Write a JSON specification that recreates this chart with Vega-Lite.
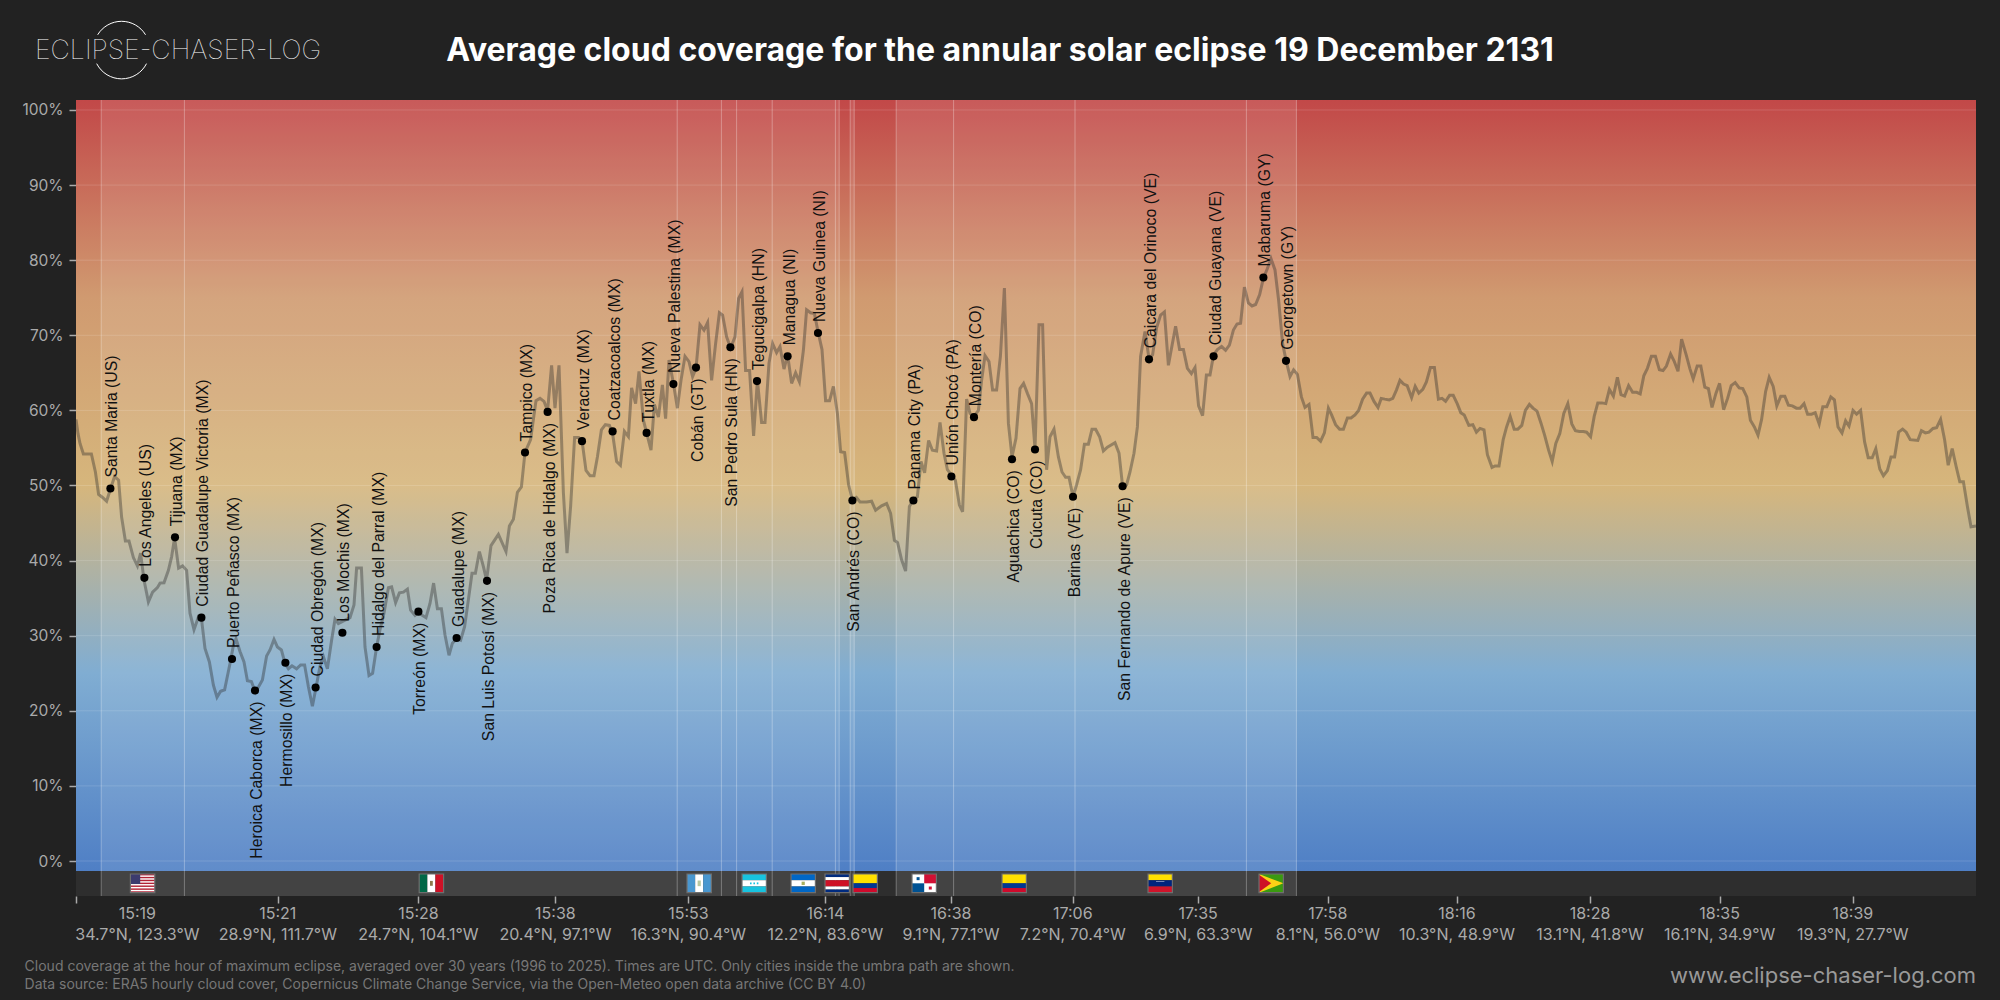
{
  "$schema": "https://vega.github.io/schema/vega-lite/v6.json",
  "width": 1900,
  "height": 796,
  "autosize": {"type": "none"},
  "padding": {"left": 76, "top": 100, "right": 24, "bottom": 104},
  "background": "#222222",
  "view": {"stroke": null},
  "title": {
    "text": "Average cloud coverage for the annular solar eclipse 19 December 2131",
    "font": "Inter",
    "fontSize": 32,
    "fontWeight": 700,
    "color": "#ffffff",
    "anchor": "middle",
    "baseline": "alphabetic",
    "dx": -26,
    "offset": -74
  },
  "datasets": {
    "cloud": [
      {"km":0,"pct":58.8},{"km":10,"pct":56.9},{"km":20,"pct":55.6},{"km":37,"pct":54.2},{"km":77,"pct":54.2},{"km":97,"pct":51.8},{"km":113,"pct":48.8},{"km":133,"pct":48.4},{"km":153,"pct":47.9},{"km":173,"pct":49.6},{"km":193,"pct":51.2},{"km":213,"pct":50.7},{"km":228,"pct":45.8},{"km":247,"pct":42.6},{"km":265,"pct":42.6},{"km":287,"pct":40.4},{"km":307,"pct":39.3},{"km":323,"pct":41.0},{"km":340,"pct":37.4},{"km":362,"pct":34.5},{"km":383,"pct":35.8},{"km":407,"pct":36.4},{"km":420,"pct":37.0},{"km":440,"pct":37.05},{"km":462,"pct":38.7},{"km":478,"pct":40.5},{"km":493,"pct":43.0},{"km":513,"pct":39.0},{"km":533,"pct":39.3},{"km":553,"pct":38.7},{"km":570,"pct":33.0},{"km":590,"pct":30.8},{"km":612,"pct":32.5},{"km":628,"pct":32.1},{"km":645,"pct":28.3},{"km":667,"pct":26.5},{"km":687,"pct":23.4},{"km":705,"pct":21.8},{"km":723,"pct":22.6},{"km":743,"pct":22.8},{"km":770,"pct":26.3},{"km":787,"pct":28.7},{"km":800,"pct":29.6},{"km":820,"pct":27.9},{"km":840,"pct":26.5},{"km":857,"pct":24.0},{"km":877,"pct":23.9},{"km":897,"pct":22.5},{"km":913,"pct":23.2},{"km":932,"pct":24.1},{"km":953,"pct":27.3},{"km":970,"pct":28.1},{"km":990,"pct":29.5},{"km":1007,"pct":28.5},{"km":1027,"pct":28.1},{"km":1045,"pct":26.3},{"km":1062,"pct":25.6},{"km":1080,"pct":26.0},{"km":1103,"pct":25.6},{"km":1123,"pct":26.1},{"km":1143,"pct":26.1},{"km":1162,"pct":23.2},{"km":1182,"pct":20.6},{"km":1198,"pct":22.8},{"km":1220,"pct":25.9},{"km":1237,"pct":27.2},{"km":1257,"pct":25.6},{"km":1278,"pct":29.4},{"km":1295,"pct":32.2},{"km":1312,"pct":31.6},{"km":1333,"pct":31.9},{"km":1370,"pct":32.4},{"km":1390,"pct":34.1},{"km":1403,"pct":39.0},{"km":1427,"pct":39.0},{"km":1445,"pct":28.5},{"km":1465,"pct":24.7},{"km":1483,"pct":25.0},{"km":1503,"pct":28.5},{"km":1520,"pct":30.8},{"km":1540,"pct":33.0},{"km":1562,"pct":36.4},{"km":1578,"pct":36.5},{"km":1598,"pct":34.4},{"km":1617,"pct":35.7},{"km":1637,"pct":35.8},{"km":1657,"pct":36.2},{"km":1673,"pct":33.4},{"km":1695,"pct":32.7},{"km":1712,"pct":33.1},{"km":1733,"pct":32.7},{"km":1750,"pct":32.4},{"km":1770,"pct":34.3},{"km":1788,"pct":37.0},{"km":1807,"pct":33.6},{"km":1827,"pct":33.6},{"km":1845,"pct":30.1},{"km":1865,"pct":27.4},{"km":1882,"pct":29.0},{"km":1903,"pct":29.6},{"km":1923,"pct":29.4},{"km":1943,"pct":31.2},{"km":1962,"pct":34.8},{"km":1980,"pct":38.3},{"km":1997,"pct":38.3},{"km":2017,"pct":41.2},{"km":2037,"pct":39.2},{"km":2053,"pct":37.4},{"km":2075,"pct":42.0},{"km":2112,"pct":43.5},{"km":2150,"pct":41.2},
      {"km":2167,"pct":44.6},{"km":2187,"pct":45.5},{"km":2207,"pct":49.1},{"km":2227,"pct":49.8},{"km":2245,"pct":54.4},{"km":2273,"pct":56.1},{"km":2300,"pct":61.3},{"km":2320,"pct":61.6},{"km":2340,"pct":61.2},{"km":2358,"pct":60.0},{"km":2378,"pct":66.0},{"km":2395,"pct":60.3},{"km":2415,"pct":66.0},{"km":2437,"pct":49.0},{"km":2455,"pct":41.0},{"km":2473,"pct":47.2},{"km":2493,"pct":56.4},{"km":2513,"pct":56.4},{"km":2532,"pct":55.6},{"km":2550,"pct":52.0},{"km":2570,"pct":51.3},{"km":2590,"pct":51.3},{"km":2607,"pct":53.8},{"km":2627,"pct":57.4},{"km":2647,"pct":58.1},{"km":2667,"pct":58.0},{"km":2683,"pct":56.9},{"km":2703,"pct":53.2},{"km":2722,"pct":52.7},{"km":2742,"pct":57.2},{"km":2762,"pct":56.5},{"km":2778,"pct":63.0},{"km":2798,"pct":60.9},{"km":2815,"pct":65.2},{"km":2837,"pct":58.7},{"km":2875,"pct":54.7},{"km":2892,"pct":60.8},{"km":2912,"pct":59.1},{"km":2932,"pct":63.4},{"km":2948,"pct":58.9},{"km":2965,"pct":66.7},{"km":2987,"pct":63.6},{"km":3007,"pct":60.3},{"km":3025,"pct":64.0},{"km":3045,"pct":67.2},{"km":3065,"pct":66.5},{"km":3083,"pct":64.5},{"km":3100,"pct":65.6},{"km":3120,"pct":71.4},{"km":3140,"pct":70.7},{"km":3158,"pct":71.7},{"km":3178,"pct":64.0},{"km":3198,"pct":68.9},{"km":3217,"pct":73.0},{"km":3233,"pct":72.7},{"km":3253,"pct":69.8},{"km":3273,"pct":68.3},{"km":3295,"pct":69.8},{"km":3313,"pct":74.9},{"km":3330,"pct":75.8},{"km":3348,"pct":65.3},{"km":3368,"pct":65.3},{"km":3388,"pct":56.6},{"km":3407,"pct":64.0},{"km":3428,"pct":58.4},{"km":3445,"pct":58.4},{"km":3465,"pct":66.3},{"km":3483,"pct":68.9},{"km":3503,"pct":67.7},{"km":3520,"pct":68.5},{"km":3540,"pct":65.5},{"km":3558,"pct":67.4},{"km":3578,"pct":63.6},{"km":3598,"pct":65.0},{"km":3617,"pct":63.8},{"km":3637,"pct":68.0},{"km":3653,"pct":73.4},{"km":3673,"pct":73.0},{"km":3692,"pct":72.9},{"km":3710,"pct":70.5},{"km":3730,"pct":68.1},{"km":3748,"pct":61.3},{"km":3768,"pct":61.3},{"km":3787,"pct":63.2},{"km":3807,"pct":59.6},{"km":3823,"pct":54.5},{"km":3843,"pct":54.4},{"km":3863,"pct":50.1},{"km":3882,"pct":48.1},{"km":3902,"pct":48.4},{"km":3920,"pct":47.8},{"km":3953,"pct":47.8},{"km":3978,"pct":47.9},{"km":3998,"pct":46.7},{"km":4028,"pct":47.3},{"km":4053,"pct":47.6},{"km":4073,"pct":46.3},{"km":4092,"pct":42.7},{"km":4108,"pct":42.4},{"km":4128,"pct":40.1},{"km":4148,"pct":38.6},{"km":4167,"pct":47.2},{"km":4187,"pct":48.1},{"km":4207,"pct":48.5},{"km":4225,"pct":53.2},{"km":4243,"pct":51.7},{"km":4263,"pct":56.0},{"km":4282,"pct":54.7},{"km":4303,"pct":54.6},
      {"km":4320,"pct":58.4},{"km":4340,"pct":54.3},{"km":4357,"pct":52.1},{"km":4377,"pct":51.4},{"km":4397,"pct":50.7},{"km":4417,"pct":47.4},{"km":4433,"pct":46.5},{"km":4453,"pct":61.5},{"km":4470,"pct":59.6},{"km":4490,"pct":59.2},{"km":4512,"pct":60.0},{"km":4528,"pct":64.0},{"km":4545,"pct":67.3},{"km":4565,"pct":66.5},{"km":4583,"pct":62.7},{"km":4603,"pct":62.7},{"km":4622,"pct":67.2},{"km":4642,"pct":76.3},{"km":4662,"pct":58.3},{"km":4680,"pct":53.8},{"km":4700,"pct":56.3},{"km":4720,"pct":62.9},{"km":4738,"pct":63.6},{"km":4758,"pct":62.2},{"km":4778,"pct":60.9},{"km":4795,"pct":54.9},{"km":4815,"pct":71.4},{"km":4833,"pct":71.4},{"km":4853,"pct":52.1},{"km":4870,"pct":56.5},{"km":4890,"pct":57.5},{"km":4912,"pct":53.8},{"km":4930,"pct":51.8},{"km":4948,"pct":51.1},{"km":4965,"pct":51.1},{"km":4985,"pct":48.5},{"km":5003,"pct":50.1},{"km":5023,"pct":52.1},{"km":5042,"pct":55.5},{"km":5062,"pct":55.5},{"km":5080,"pct":57.5},{"km":5098,"pct":57.5},{"km":5118,"pct":56.5},{"km":5137,"pct":54.6},{"km":5157,"pct":55.1},{"km":5195,"pct":55.7},{"km":5215,"pct":54.3},{"km":5233,"pct":49.9},{"km":5253,"pct":50.1},{"km":5270,"pct":51.8},{"km":5290,"pct":54.3},{"km":5307,"pct":57.8},{"km":5323,"pct":67.2},{"km":5345,"pct":70.5},{"km":5365,"pct":66.9},{"km":5383,"pct":67.4},{"km":5403,"pct":71.0},{"km":5423,"pct":72.7},{"km":5442,"pct":73.1},{"km":5462,"pct":66.0},{"km":5482,"pct":68.9},{"km":5498,"pct":71.2},{"km":5518,"pct":68.1},{"km":5537,"pct":68.1},{"km":5557,"pct":65.6},{"km":5577,"pct":64.9},{"km":5595,"pct":65.7},{"km":5613,"pct":60.6},{"km":5633,"pct":59.3},{"km":5652,"pct":64.7},{"km":5670,"pct":64.7},{"km":5688,"pct":67.4},{"km":5707,"pct":68.1},{"km":5728,"pct":68.5},{"km":5748,"pct":68.0},{"km":5767,"pct":68.7},{"km":5787,"pct":70.7},{"km":5805,"pct":71.5},{"km":5823,"pct":71.6},{"km":5842,"pct":76.4},{"km":5862,"pct":74.3},{"km":5880,"pct":73.9},{"km":5898,"pct":74.1},{"km":5918,"pct":75.4},{"km":5937,"pct":77.6},{"km":5957,"pct":78.9},{"km":5975,"pct":80.2},{"km":5995,"pct":78.7},{"km":6013,"pct":74.7},{"km":6033,"pct":68.9},{"km":6050,"pct":66.7},{"km":6070,"pct":64.5},{"km":6088,"pct":65.4},{"km":6107,"pct":64.8},{"km":6127,"pct":61.8},{"km":6145,"pct":60.4},{"km":6165,"pct":60.8},{"km":6185,"pct":56.4},{"km":6203,"pct":56.4},{"km":6223,"pct":55.9},{"km":6242,"pct":57.0},{"km":6262,"pct":60.3},{"km":6278,"pct":59.4},{"km":6298,"pct":58.1},{"km":6318,"pct":57.5},{"km":6337,"pct":57.5},{"km":6357,"pct":59.0},{"km":6375,"pct":59.0},{"km":6395,"pct":59.4},{"km":6413,"pct":60.0},{"km":6433,"pct":61.5},{"km":6453,"pct":62.3},{"km":6470,"pct":62.3},{"km":6490,"pct":61.2},{"km":6510,"pct":60.4},
      {"km":6526,"pct":61.6},{"km":6544,"pct":61.5},{"km":6566,"pct":61.4},{"km":6584,"pct":61.6},{"km":6602,"pct":62.7},{"km":6620,"pct":64.0},{"km":6638,"pct":63.5},{"km":6656,"pct":63.3},{"km":6678,"pct":61.7},{"km":6696,"pct":63.2},{"km":6714,"pct":62.3},{"km":6734,"pct":62.8},{"km":6752,"pct":63.8},{"km":6772,"pct":65.7},{"km":6792,"pct":65.7},{"km":6812,"pct":61.5},{"km":6830,"pct":61.6},{"km":6848,"pct":61.2},{"km":6868,"pct":62.0},{"km":6886,"pct":62.0},{"km":6906,"pct":60.9},{"km":6924,"pct":59.7},{"km":6941,"pct":59.4},{"km":6964,"pct":58.0},{"km":6984,"pct":58.1},{"km":7002,"pct":57.1},{"km":7020,"pct":57.6},{"km":7040,"pct":57.4},{"km":7057,"pct":54.1},{"km":7080,"pct":52.4},{"km":7095,"pct":52.6},{"km":7115,"pct":52.6},{"km":7136,"pct":56.1},{"km":7153,"pct":57.8},{"km":7171,"pct":59.2},{"km":7191,"pct":57.5},{"km":7209,"pct":57.5},{"km":7229,"pct":58.0},{"km":7247,"pct":60.0},{"km":7267,"pct":60.8},{"km":7285,"pct":60.3},{"km":7305,"pct":59.9},{"km":7325,"pct":58.3},{"km":7343,"pct":56.7},{"km":7363,"pct":54.7},{"km":7381,"pct":53.2},{"km":7399,"pct":55.6},{"km":7419,"pct":56.9},{"km":7439,"pct":59.6},{"km":7459,"pct":60.9},{"km":7479,"pct":58.2},{"km":7497,"pct":57.3},{"km":7517,"pct":57.2},{"km":7537,"pct":57.2},{"km":7553,"pct":57.1},{"km":7573,"pct":56.5},{"km":7591,"pct":59.2},{"km":7609,"pct":61.0},{"km":7629,"pct":61.0},{"km":7649,"pct":60.9},{"km":7667,"pct":62.8},{"km":7687,"pct":61.9},{"km":7707,"pct":64.4},{"km":7725,"pct":62.1},{"km":7743,"pct":61.9},{"km":7763,"pct":63.3},{"km":7783,"pct":62.4},{"km":7803,"pct":62.4},{"km":7821,"pct":62.2},{"km":7839,"pct":64.6},{"km":7857,"pct":65.6},{"km":7877,"pct":67.2},{"km":7897,"pct":67.2},{"km":7917,"pct":65.4},{"km":7935,"pct":65.3},{"km":7952,"pct":65.9},{"km":7973,"pct":67.5},{"km":7990,"pct":66.6},{"km":8010,"pct":65.2},{"km":8028,"pct":69.5},{"km":8051,"pct":67.4},{"km":8069,"pct":65.6},{"km":8086,"pct":64.2},{"km":8106,"pct":65.9},{"km":8124,"pct":65.9},{"km":8144,"pct":63.1},{"km":8162,"pct":62.9},{"km":8180,"pct":60.4},{"km":8200,"pct":62.3},{"km":8218,"pct":63.6},{"km":8238,"pct":60.1},{"km":8258,"pct":61.6},{"km":8276,"pct":63.3},{"km":8296,"pct":63.7},{"km":8316,"pct":63.0},{"km":8334,"pct":62.9},{"km":8354,"pct":61.8},{"km":8372,"pct":58.7},{"km":8392,"pct":57.8},{"km":8410,"pct":56.7},{"km":8428,"pct":58.8},{"km":8448,"pct":62.5},{"km":8466,"pct":64.4},{"km":8486,"pct":63.2},{"km":8504,"pct":60.6},{"km":8524,"pct":61.9},{"km":8544,"pct":61.9},{"km":8562,"pct":60.7},{"km":8582,"pct":60.6},{"km":8602,"pct":60.3},{"km":8620,"pct":60.3},{"km":8640,"pct":60.9},{"km":8658,"pct":59.5},{"km":8678,"pct":59.5},{"km":8696,"pct":59.7},{"km":8716,"pct":58.2},{"km":8734,"pct":60.5},{"km":8754,"pct":60.5},{"km":8774,"pct":61.8},{"km":8792,"pct":61.4},{"km":8810,"pct":57.8},{"km":8830,"pct":57.0},{"km":8848,"pct":58.6},{"km":8865,"pct":57.9},{"km":8885,"pct":60.0},{"km":8903,"pct":59.5},{"km":8923,"pct":60.0},{"km":8943,"pct":55.8},{"km":8961,"pct":53.7},{"km":8981,"pct":53.7},{"km":8999,"pct":54.9},{"km":9019,"pct":52.2},{"km":9037,"pct":51.3},{"km":9057,"pct":52.0},{"km":9075,"pct":53.8},{"km":9093,"pct":53.8},{"km":9113,"pct":57.1},{"km":9133,"pct":57.5},{"km":9151,"pct":57.1},{"km":9171,"pct":56.1},{"km":9209,"pct":56.0},{"km":9227,"pct":57.3},{"km":9247,"pct":57.0},{"km":9265,"pct":57.1},{"km":9285,"pct":57.6},{"km":9303,"pct":57.7},{"km":9323,"pct":58.8},{"km":9343,"pct":56.1},{"km":9361,"pct":52.7},{"km":9381,"pct":54.9},{"km":9401,"pct":52.5},{"km":9419,"pct":50.5},{"km":9437,"pct":50.5},{"km":9457,"pct":47.2},{"km":9475,"pct":44.5},{"km":9500,"pct":44.6}
    ],
    "cities": [
      {"city":"Santa Maria (US)","km":172,"pct":49.6,"side":"above"},
      {"city":"Los Angeles (US)","km":342,"pct":37.7,"side":"above"},
      {"city":"Tijuana (MX)","km":495,"pct":43.1,"side":"above"},
      {"city":"Ciudad Guadalupe Victoria (MX)","km":627,"pct":32.4,"side":"above"},
      {"city":"Puerto Peñasco (MX)","km":780,"pct":26.9,"side":"above"},
      {"city":"Heroica Caborca (MX)","km":895,"pct":22.7,"side":"below"},
      {"city":"Hermosillo (MX)","km":1047,"pct":26.4,"side":"below"},
      {"city":"Ciudad Obregón (MX)","km":1198,"pct":23.1,"side":"above"},
      {"city":"Los Mochis (MX)","km":1332,"pct":30.4,"side":"above"},
      {"city":"Hidalgo del Parral (MX)","km":1503,"pct":28.5,"side":"above"},
      {"city":"Torreón (MX)","km":1712,"pct":33.2,"side":"below"},
      {"city":"Guadalupe (MX)","km":1903,"pct":29.7,"side":"above"},
      {"city":"San Luis Potosí (MX)","km":2055,"pct":37.3,"side":"below"},
      {"city":"Tampico (MX)","km":2245,"pct":54.4,"side":"above"},
      {"city":"Poza Rica de Hidalgo (MX)","km":2358,"pct":59.8,"side":"below"},
      {"city":"Veracruz (MX)","km":2530,"pct":55.9,"side":"above"},
      {"city":"Coatzacoalcos (MX)","km":2683,"pct":57.2,"side":"above"},
      {"city":"Tuxtla (MX)","km":2853,"pct":57.0,"side":"above"},
      {"city":"Nueva Palestina (MX)","km":2987,"pct":63.5,"side":"above"},
      {"city":"Cobán (GT)","km":3100,"pct":65.7,"side":"below"},
      {"city":"San Pedro Sula (HN)","km":3272,"pct":68.4,"side":"below"},
      {"city":"Tegucigalpa (HN)","km":3405,"pct":63.9,"side":"above"},
      {"city":"Managua (NI)","km":3558,"pct":67.2,"side":"above"},
      {"city":"Nueva Guinea (NI)","km":3710,"pct":70.3,"side":"above"},
      {"city":"San Andrés (CO)","km":3882,"pct":48.0,"side":"below"},
      {"city":"Panama City (PA)","km":4187,"pct":48.0,"side":"above"},
      {"city":"Unión Chocó (PA)","km":4377,"pct":51.2,"side":"above"},
      {"city":"Montería (CO)","km":4490,"pct":59.1,"side":"above"},
      {"city":"Aguachica (CO)","km":4680,"pct":53.5,"side":"below"},
      {"city":"Cúcuta (CO)","km":4795,"pct":54.8,"side":"below"},
      {"city":"Barinas (VE)","km":4985,"pct":48.5,"side":"below"},
      {"city":"San Fernando de Apure (VE)","km":5233,"pct":49.9,"side":"below"},
      {"city":"Caicara del Orinoco (VE)","km":5365,"pct":66.8,"side":"above"},
      {"city":"Ciudad Guayana (VE)","km":5688,"pct":67.2,"side":"above"},
      {"city":"Mabaruma (GY)","km":5937,"pct":77.7,"side":"above"},
      {"city":"Georgetown (GY)","km":6050,"pct":66.6,"side":"above"}
    ],
    "positions": [
      {"label_km":307,"time_pct":-7.06,"coord_pct":-9.85,"time":"15:19","coord":"34.7°N, 123.3°W"},
      {"label_km":1009,"time_pct":-7.06,"coord_pct":-9.85,"time":"15:21","coord":"28.9°N, 111.7°W"},
      {"label_km":1712,"time_pct":-7.06,"coord_pct":-9.85,"time":"15:28","coord":"24.7°N, 104.1°W"},
      {"label_km":2397,"time_pct":-7.06,"coord_pct":-9.85,"time":"15:38","coord":"20.4°N, 97.1°W"},
      {"label_km":3062,"time_pct":-7.06,"coord_pct":-9.85,"time":"15:53","coord":"16.3°N, 90.4°W"},
      {"label_km":3747,"time_pct":-7.06,"coord_pct":-9.85,"time":"16:14","coord":"12.2°N, 83.6°W"},
      {"label_km":4375,"time_pct":-7.06,"coord_pct":-9.85,"time":"16:38","coord":"9.1°N, 77.1°W"},
      {"label_km":4984,"time_pct":-7.06,"coord_pct":-9.85,"time":"17:06","coord":"7.2°N, 70.4°W"},
      {"label_km":5611,"time_pct":-7.06,"coord_pct":-9.85,"time":"17:35","coord":"6.9°N, 63.3°W"},
      {"label_km":6259,"time_pct":-7.06,"coord_pct":-9.85,"time":"17:58","coord":"8.1°N, 56.0°W"},
      {"label_km":6905,"time_pct":-7.06,"coord_pct":-9.85,"time":"18:16","coord":"10.3°N, 48.9°W"},
      {"label_km":7570,"time_pct":-7.06,"coord_pct":-9.85,"time":"18:28","coord":"13.1°N, 41.8°W"},
      {"label_km":8218,"time_pct":-7.06,"coord_pct":-9.85,"time":"18:35","coord":"16.1°N, 34.9°W"},
      {"label_km":8884,"time_pct":-7.06,"coord_pct":-9.85,"time":"18:39","coord":"19.3°N, 27.7°W"}
    ],
    "land": [
      {"km":126,"km2":3816,"pct":101.33,"pct2":-4.66},
      {"km":3871,"km2":3891,"pct":101.33,"pct2":-4.66},
      {"km":4101,"km2":6102,"pct":101.33,"pct2":-4.66}
    ],
    "borders": [
      {"km":126,"pct":101.33,"pct2":-4.66},{"km":542,"pct":101.33,"pct2":-4.66},{"km":3006,"pct":101.33,"pct2":-4.66},{"km":3227,"pct":101.33,"pct2":-4.66},{"km":3303,"pct":101.33,"pct2":-4.66},{"km":3481,"pct":101.33,"pct2":-4.66},{"km":3797,"pct":101.33,"pct2":-4.66},{"km":3816,"pct":101.33,"pct2":-4.66},{"km":3871,"pct":101.33,"pct2":-4.66},{"km":3891,"pct":101.33,"pct2":-4.66},{"km":4101,"pct":101.33,"pct2":-4.66},{"km":4388,"pct":101.33,"pct2":-4.66},{"km":4995,"pct":101.33,"pct2":-4.66},{"km":5852,"pct":101.33,"pct2":-4.66},{"km":6102,"pct":101.33,"pct2":-4.66}
    ],
    "gridlines": [
      {"km":0,"km2":9500,"pct":0},{"km":0,"km2":9500,"pct":10},{"km":0,"km2":9500,"pct":20},{"km":0,"km2":9500,"pct":30},{"km":0,"km2":9500,"pct":40},{"km":0,"km2":9500,"pct":50},{"km":0,"km2":9500,"pct":60},{"km":0,"km2":9500,"pct":70},{"km":0,"km2":9500,"pct":80},{"km":0,"km2":9500,"pct":90},{"km":0,"km2":9500,"pct":100}
    ],
    "flags": [
      {"flag":"US","km":272,"km2":394,"pct":-1.73,"pct2":-4.22},{"flag":"MX","km":1716,"km2":1838,"pct":-1.73,"pct2":-4.22},{"flag":"GT","km":3055,"km2":3177,"pct":-1.73,"pct2":-4.22},{"flag":"HN","km":3330,"km2":3452,"pct":-1.73,"pct2":-4.22},{"flag":"NI","km":3575,"km2":3697,"pct":-1.73,"pct2":-4.22},{"flag":"CR","km":3745,"km2":3867,"pct":-1.73,"pct2":-4.22},{"flag":"CO","km":3885,"km2":4007,"pct":-1.73,"pct2":-4.22},{"flag":"PA","km":4180,"km2":4302,"pct":-1.73,"pct2":-4.22},{"flag":"CO","km":4630,"km2":4752,"pct":-1.73,"pct2":-4.22},{"flag":"VE","km":5360,"km2":5482,"pct":-1.73,"pct2":-4.22},{"flag":"GY","km":5915,"km2":6037,"pct":-1.73,"pct2":-4.22}
    ],
    "flag_parts": [
      {"part":"white","km":272,"km2":394,"pct":-1.73,"pct2":-4.22},
      {"part":"us red","km":272,"km2":394,"pct":-1.73,"pct2":-1.92},
      {"part":"us red","km":272,"km2":394,"pct":-2.11,"pct2":-2.30},
      {"part":"us red","km":272,"km2":394,"pct":-2.49,"pct2":-2.69},
      {"part":"us red","km":272,"km2":394,"pct":-2.88,"pct2":-3.07},
      {"part":"us red","km":272,"km2":394,"pct":-3.26,"pct2":-3.45},
      {"part":"us red","km":272,"km2":394,"pct":-3.65,"pct2":-3.84},
      {"part":"us red","km":272,"km2":394,"pct":-4.03,"pct2":-4.22},
      {"part":"us blue","km":272,"km2":321,"pct":-1.73,"pct2":-3.07},
      {"part":"mx green","km":1716,"km2":1757,"pct":-1.73,"pct2":-4.22},
      {"part":"white","km":1757,"km2":1797,"pct":-1.73,"pct2":-4.22},
      {"part":"mx red","km":1797,"km2":1838,"pct":-1.73,"pct2":-4.22},
      {"part":"mx emblem","km":1770,"km2":1784,"pct":-2.65,"pct2":-3.3},
      {"part":"gt blue","km":3055,"km2":3096,"pct":-1.73,"pct2":-4.22},
      {"part":"white","km":3096,"km2":3136,"pct":-1.73,"pct2":-4.22},
      {"part":"gt blue","km":3136,"km2":3177,"pct":-1.73,"pct2":-4.22},
      {"part":"gt emblem","km":3108,"km2":3124,"pct":-2.6,"pct2":-3.35},
      {"part":"hn cyan","km":3330,"km2":3452,"pct":-1.73,"pct2":-2.56},
      {"part":"white","km":3330,"km2":3452,"pct":-2.56,"pct2":-3.39},
      {"part":"hn cyan","km":3330,"km2":3452,"pct":-3.39,"pct2":-4.22},
      {"part":"hn cyan","km":3370,"km2":3378,"pct":-2.85,"pct2":-3.1},
      {"part":"hn cyan","km":3387,"km2":3395,"pct":-2.85,"pct2":-3.1},
      {"part":"hn cyan","km":3404,"km2":3412,"pct":-2.85,"pct2":-3.1},
      {"part":"ni blue","km":3575,"km2":3697,"pct":-1.73,"pct2":-2.56},
      {"part":"white","km":3575,"km2":3697,"pct":-2.56,"pct2":-3.39},
      {"part":"ni blue","km":3575,"km2":3697,"pct":-3.39,"pct2":-4.22},
      {"part":"ni emblem","km":3628,"km2":3644,"pct":-2.75,"pct2":-3.2},
      {"part":"cr blue","km":3745,"km2":3867,"pct":-1.73,"pct2":-2.14},
      {"part":"white","km":3745,"km2":3867,"pct":-2.14,"pct2":-2.56},
      {"part":"cr red","km":3745,"km2":3867,"pct":-2.56,"pct2":-3.39},
      {"part":"white","km":3745,"km2":3867,"pct":-3.39,"pct2":-3.80},
      {"part":"cr blue","km":3745,"km2":3867,"pct":-3.80,"pct2":-4.22},
      {"part":"co yellow","km":3885,"km2":4007,"pct":-1.73,"pct2":-2.97},
      {"part":"co blue","km":3885,"km2":4007,"pct":-2.97,"pct2":-3.6},
      {"part":"co red","km":3885,"km2":4007,"pct":-3.6,"pct2":-4.22},
      {"part":"white","km":4180,"km2":4302,"pct":-1.73,"pct2":-4.22},
      {"part":"pa red","km":4241,"km2":4302,"pct":-1.73,"pct2":-2.97},
      {"part":"pa blue","km":4180,"km2":4241,"pct":-2.97,"pct2":-4.22},
      {"part":"pa blue","km":4203,"km2":4218,"pct":-2.15,"pct2":-2.55},
      {"part":"pa red","km":4264,"km2":4279,"pct":-3.4,"pct2":-3.8},
      {"part":"co yellow","km":4630,"km2":4752,"pct":-1.73,"pct2":-2.97},
      {"part":"co blue","km":4630,"km2":4752,"pct":-2.97,"pct2":-3.6},
      {"part":"co red","km":4630,"km2":4752,"pct":-3.6,"pct2":-4.22},
      {"part":"co yellow","km":5360,"km2":5482,"pct":-1.73,"pct2":-2.56},
      {"part":"ve blue","km":5360,"km2":5482,"pct":-2.56,"pct2":-3.39},
      {"part":"ve red","km":5360,"km2":5482,"pct":-3.39,"pct2":-4.22},
      {"part":"white","km":5400,"km2":5442,"pct":-2.72,"pct2":-2.78},
      {"part":"gy green","km":5915,"km2":6037,"pct":-1.73,"pct2":-4.22}
    ],
    "guyana": [
      {"part":"gy yellow","km":5915,"pct":-1.73,"pct2":-4.22},
      {"part":"gy yellow","km":6037,"pct":-2.975,"pct2":-2.975},
      {"part":"gy red","km":5915,"pct":-1.83,"pct2":-4.12},
      {"part":"gy red","km":5976,"pct":-2.975,"pct2":-2.975}
    ],
    "footnotes": [
      {"km":-257,"pct":-14.1,"note":"Cloud coverage at the hour of maximum eclipse, averaged over 30 years (1996 to 2025). Times are UTC. Only cities inside the umbra path are shown."},
      {"km":-257,"pct":-16.55,"note":"Data source: ERA5 hourly cloud cover, Copernicus Climate Change Service, via the Open-Meteo open data archive (CC BY 4.0)"}
    ]
  },
  "encoding": {
    "x": {
      "field": "km",
      "type": "quantitative",
      "scale": {"domain": [0, 9500], "nice": false, "zero": false},
      "axis": {
        "title": null,
        "values": [0, 1009, 1712, 2397, 3062, 3747, 4375, 4984, 5611, 6259, 6905, 7570, 8218, 8884],
        "labels": false,
        "domain": false,
        "grid": false,
        "ticks": true,
        "tickSize": 7,
        "tickWidth": 1.5,
        "tickColor": "#aaaaaa"
      }
    },
    "y": {
      "field": "pct",
      "type": "quantitative",
      "scale": {"domain": [-4.66, 101.33], "nice": false, "zero": false},
      "axis": {
        "title": null,
        "values": [0, 10, 20, 30, 40, 50, 60, 70, 80, 90, 100],
        "labelExpr": "datum.value + '%'",
        "labelFont": "Inter",
        "labelFontSize": 15.5,
        "labelColor": "#aaaaaa",
        "labelPadding": 6,
        "domain": false,
        "grid": false,
        "tickSize": 7,
        "tickWidth": 1.5,
        "tickColor": "#aaaaaa"
      }
    }
  },
  "layer": [
    {
      "data": {"values": [{"km": 0, "km2": 9500, "pct": 101.33, "pct2": -1.33}]},
      "mark": {
        "type": "rect",
        "color": {
          "gradient": "linear",
          "x1": 0, "y1": 0, "x2": 0, "y2": 1,
          "stops": [
            {"offset": 0, "color": "#c24848"},
            {"offset": 0.256, "color": "#d09a70"},
            {"offset": 0.5, "color": "#d6b67c"},
            {"offset": 0.743, "color": "#80add2"},
            {"offset": 1, "color": "#4f7fc5"}
          ]
        }
      },
      "encoding": {"x2": {"field": "km2"}, "y2": {"field": "pct2"}}
    },
    {
      "data": {"values": [{"km": 0, "km2": 9500, "pct": -1.33, "pct2": -4.66}]},
      "mark": {"type": "rect", "color": "#2e2e2e"},
      "encoding": {"x2": {"field": "km2"}, "y2": {"field": "pct2"}}
    },
    {
      "data": {"name": "land"},
      "mark": {"type": "rect", "color": "#ffffff", "opacity": 0.1},
      "encoding": {"x2": {"field": "km2"}, "y2": {"field": "pct2"}}
    },
    {
      "data": {"name": "gridlines"},
      "mark": {"type": "rule", "color": "#ffffff", "opacity": 0.14, "strokeWidth": 1},
      "encoding": {"x2": {"field": "km2"}}
    },
    {
      "data": {"name": "borders"},
      "mark": {"type": "rule", "color": "#ffffff", "opacity": 0.3, "strokeWidth": 1},
      "encoding": {"y2": {"field": "pct2"}}
    },
    {
      "data": {"name": "cloud"},
      "mark": {"type": "line", "color": "#2b2b2b", "opacity": 0.38, "strokeWidth": 3, "strokeJoin": "miter"}
    },
    {
      "data": {"name": "cities"},
      "transform": [{"filter": "datum.side == 'above'"}],
      "mark": {"type": "text", "angle": 270, "align": "left", "baseline": "middle", "dx": 11, "dy": 2, "font": "Liberation Sans", "fontSize": 15.8, "color": "#111111"},
      "encoding": {"text": {"field": "city"}}
    },
    {
      "data": {"name": "cities"},
      "transform": [{"filter": "datum.side == 'below'"}],
      "mark": {"type": "text", "angle": 270, "align": "right", "baseline": "middle", "dx": -11, "dy": 2, "font": "Liberation Sans", "fontSize": 15.8, "color": "#111111"},
      "encoding": {"text": {"field": "city"}}
    },
    {
      "data": {"name": "cities"},
      "mark": {"type": "circle", "color": "#000000", "opacity": 1, "size": 66}
    },
    {
      "data": {"name": "flag_parts"},
      "mark": {"type": "rect"},
      "encoding": {
        "x2": {"field": "km2"},
        "y2": {"field": "pct2"},
        "color": {
          "field": "part",
          "type": "nominal",
          "legend": null,
          "scale": {
            "domain": ["white","us red","us blue","mx green","mx red","mx emblem","gt blue","gt emblem","hn cyan","ni blue","ni emblem","cr blue","cr red","co yellow","co blue","co red","pa red","pa blue","ve blue","ve red","gy green","gy yellow","gy red"],
            "range": ["#ffffff","#b22234","#3c3b6e","#006847","#ce1126","#8c7a4a","#4997d0","#b9c8a0","#18c3df","#0067c6","#a8b060","#002b7f","#ce1126","#ffe000","#003893","#cf0a2c","#d21034","#005293","#00247d","#cf142b","#3a9a10","#fcd116","#ce1126"]
          }
        }
      }
    },
    {
      "data": {"name": "guyana"},
      "mark": {"type": "area", "orient": "vertical"},
      "encoding": {
        "y2": {"field": "pct2"},
        "color": {"field": "part", "type": "nominal", "legend": null}
      }
    },
    {
      "data": {"name": "flags"},
      "mark": {"type": "rect", "fillOpacity": 0, "stroke": "#6e6e6e", "strokeWidth": 1.2},
      "encoding": {"x2": {"field": "km2"}, "y2": {"field": "pct2"}}
    },
    {
      "data": {"name": "positions"},
      "mark": {"type": "text", "align": "center", "baseline": "middle", "font": "Inter", "fontSize": 16, "color": "#aaaaaa"},
      "encoding": {"x": {"field": "label_km", "type": "quantitative"}, "y": {"field": "time_pct", "type": "quantitative"}, "text": {"field": "time"}}
    },
    {
      "data": {"name": "positions"},
      "mark": {"type": "text", "align": "center", "baseline": "middle", "font": "Inter", "fontSize": 16, "color": "#aaaaaa"},
      "encoding": {"x": {"field": "label_km", "type": "quantitative"}, "y": {"field": "coord_pct", "type": "quantitative"}, "text": {"field": "coord"}}
    },
    {
      "data": {"name": "footnotes"},
      "mark": {"type": "text", "align": "left", "baseline": "middle", "font": "Inter", "fontSize": 14, "color": "#777777"},
      "encoding": {"text": {"field": "note"}}
    },
    {
      "data": {"values": [{"km": 9500, "pct": -15.3, "site": "www.eclipse-chaser-log.com"}]},
      "mark": {"type": "text", "align": "right", "baseline": "middle", "font": "Inter", "fontSize": 22, "color": "#999999"},
      "encoding": {"text": {"field": "site"}}
    },
    {
      "data": {"values": [{"km": -205, "pct": 106.75, "logo": "ECLIPSE-CHASER-LOG"}]},
      "mark": {"type": "text", "align": "left", "baseline": "alphabetic", "font": "Inter", "fontSize": 26.7, "fontWeight": 100, "color": "#ffffff"},
      "encoding": {"text": {"field": "logo"}}
    },
    {
      "data": {"values": [{"km": 228, "pct": 108}]},
      "mark": {
        "type": "point",
        "shape": "M-0.855 -0.54 A1 1 0 0 1 0.855 -0.54 M-0.89 0.49 A1 1 0 0 0 0.89 0.49",
        "filled": false,
        "stroke": "#ffffff",
        "strokeWidth": 1,
        "opacity": 1,
        "size": 3136
      }
    }
  ]
}
